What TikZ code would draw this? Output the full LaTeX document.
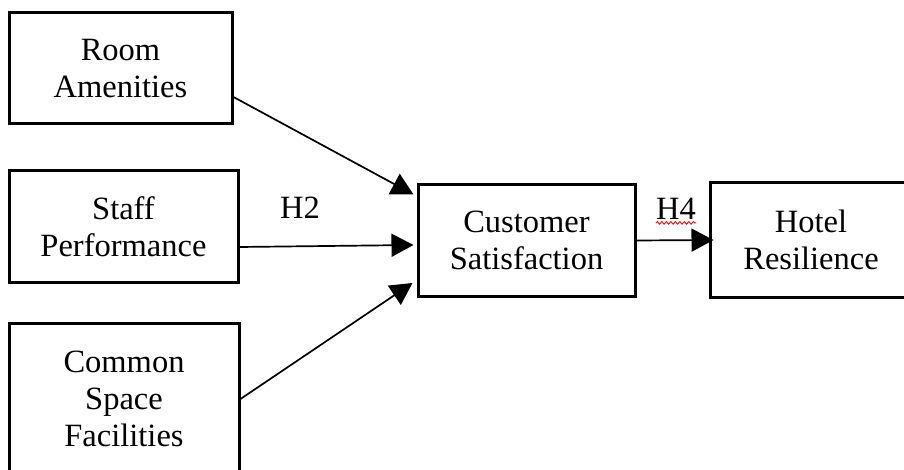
\documentclass[tikz,border=0pt]{standalone}
\usepackage{fontspec}
\setmainfont{Liberation Serif}
\usepackage{tikz}
\usetikzlibrary{arrows.meta,positioning,calc,decorations.pathmorphing}

\begin{document}
\begin{tikzpicture}[
    x=1pt, y=-1pt,
    box/.style={draw, line width=3pt, align=center, inner sep=0pt,
        font=\fontsize{32.5}{37}\selectfont, minimum height=111pt},
    hyp/.style={inner sep=0pt, font=\fontsize{32.5}{37}\selectfont},
    arrow/.style={-{Triangle[length=22pt,width=23pt]}, line width=1.7pt},
    squiggle/.style={draw=red, line width=0.9pt, decorate,
        decoration={snake, segment length=4.5pt, amplitude=1.3pt}}
]
\useasboundingbox (0,0) rectangle (904,470);

% --- antecedents ---
\node[box, minimum width=223pt] (room) at (120.5,68.5) {Room\\Amenities};
\node[box, minimum width=229pt] (staff) at (123.5,226.5) {Staff\\Performance};
\node[box, minimum width=230pt, minimum height=152pt] (common) at (124,399) {Common\\Space\\Facilities};

% --- mediator and outcome ---
\node[box, minimum width=217pt] (cust) at (526.5,240.5) {Customer\\Satisfaction};
\node[box, minimum width=202pt, minimum height=114pt] (hotel) at (811,240) {Hotel\\Resilience};

% --- paths ---
\draw[arrow] ([yshift=-28.5pt]room.east) -- ([xshift=-3pt,yshift=46pt]cust.west);
\draw[arrow] ([yshift=-20.5pt]staff.east) -- ([xshift=-3pt,yshift=-4.5pt]cust.west);
\draw[arrow] (common.east) -- ([xshift=-4pt,yshift=-42.5pt]cust.west);
\draw[arrow] (cust.east) -- ([xshift=5pt]hotel.west);

% --- hypothesis labels ---
\node[hyp] (h2) at (300,208) {H2};
\node[hyp] (h4) at (676,209) {H4};
\draw[squiggle] ([yshift=-3pt]h4.south west) -- ([yshift=-3pt]h4.south east);

\end{tikzpicture}
\end{document}
